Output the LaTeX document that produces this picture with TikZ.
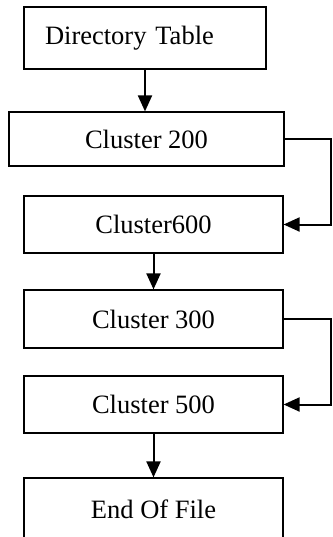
\documentclass[tikz,border=0pt]{standalone}
\usepackage{fontspec}
\setmainfont{Liberation Serif}
\usetikzlibrary{arrows.meta}

\tikzset{
  cluster/.style={draw, line width=1.2pt, minimum width=259pt, minimum height=57pt,
    inner sep=0pt, font=\fontsize{26.5}{30}\selectfont},
  link/.style={line width=2pt, -{Triangle[length=16pt,width=14pt]}}
}

\begin{document}
\begin{tikzpicture}[x=1pt,y=1pt]
    \clip (0,0) rectangle (332,-537);
    \node[cluster, minimum width=242pt, minimum height=62pt, text width=200pt,
      inner xsep=21pt, align=left] (dir) at (145,-38) {Directory Table};
    \node[cluster, minimum width=275pt, minimum height=54pt] (c200) at (146.5,-139) {Cluster 200};
    \node[cluster] (c600) at (153.5,-224.5) {Cluster600};
    \node[cluster, minimum height=58pt] (c300) at (153.5,-319) {Cluster 300};
    \node[cluster] (c500) at (153.5,-404.5) {Cluster 500};
    \node[cluster, minimum height=62pt] (eof) at (153.5,-509) {End Of File};
    
    \draw[link] (dir.south) -- (dir.south |- c200.north);
    \draw[link] (c200.east) -- ++(46,0) |- (c600.east);
    \draw[link] (c600) -- (c300);
    \draw[link] (c300.east) -- ++(47,0) |- (c500.east);
    \draw[link] (c500) -- (eof);
  \end{tikzpicture}
\end{document}
